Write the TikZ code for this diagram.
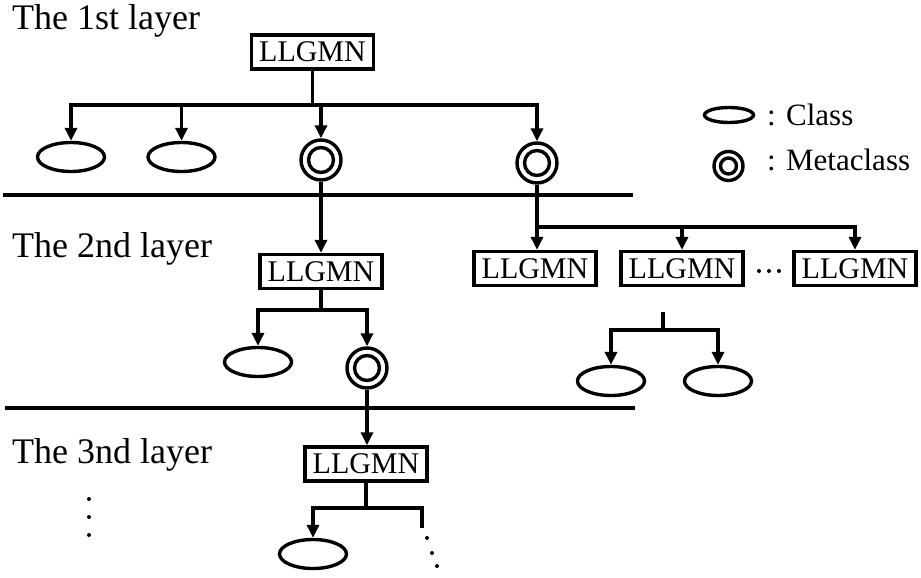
\documentclass[tikz,border=0pt]{standalone}
\usepackage{fontspec}
\setmainfont{Liberation Serif}
\usetikzlibrary{arrows.meta,shapes.geometric}

\tikzset{
  ln/.style={line width=3.4pt},
  arr/.style={line width=3.4pt, -{Triangle[width=12pt,length=13pt]}},
  llgmn/.style={draw, line width=3.4pt, rectangle, minimum width=122pt,
    minimum height=34pt, inner sep=0pt, font=\fontsize{30}{32}\selectfont},
  cls/.style={draw, line width=3.4pt, ellipse, minimum width=67pt,
    minimum height=29pt, inner sep=0pt},
  meta/.style={draw, line width=3.4pt, circle, minimum size=40pt, inner sep=0pt,
    path picture={\draw[line width=3.4pt] (path picture bounding box.center) circle (12.5pt);}},
  metasmall/.style={draw, line width=3.4pt, circle, minimum size=29pt, inner sep=0pt,
    path picture={\draw[line width=3.4pt] (path picture bounding box.center) circle (8pt);}},
  layer/.style={anchor=base west, inner sep=0pt, font=\fontsize{36}{40}\selectfont},
  legtext/.style={anchor=base west, inner sep=0pt, font=\fontsize{31}{36}\selectfont},
  dot/.style={fill=black, circle, inner sep=0pt, minimum size=4pt},
}

\begin{document}
\begin{tikzpicture}[x=1pt, y=-1pt]
\useasboundingbox (0,0) rectangle (921,578);

% layer titles
\node[layer] (t1) at (12,30) {The 1st layer};
\node[layer] (t2) at (12,257) {The 2nd layer};
\node[layer] (t3) at (12,463) {The 3nd layer};

% separators between layers
\coordinate (sepAl) at (3,195);
\coordinate (sepAr) at (633,195);
\coordinate (sepBl) at (5,408);
\coordinate (sepBr) at (635,408);
\draw[ln] (sepAl) -- (sepAr);
\draw[ln] (sepBl) -- (sepBr);

% legend
\node[cls, minimum width=49pt, minimum height=15pt] (legC) at (729,115) {};
\node[legtext] (legCt) at (767,125) {: Class};
\node[metasmall] (legM) at (728.5,166) {};
\node[legtext] (legMt) at (767,170) {: Metaclass};

% ---- first layer ----
\node[llgmn] (b1) at (312.5,52) {LLGMN};
\node[cls] (e1) at (71,157) {};
\node[cls] (e2) at (181.5,157) {};
\node[meta] (m1) at (321,160) {};
\node[meta] (m2) at (537,163) {};
\coordinate (j1) at (312.5,105);
\draw[ln] (b1.south) -- (j1);
\draw[arr] (j1) -| (e1.north);
\draw[arr] (j1) -| (e2.north);
\draw[arr] (j1) -| (m1.north);
\draw[arr] (j1) -| (m2.north);

% ---- second layer ----
\node[llgmn] (b2) at (321,271.5) {LLGMN};
\node[llgmn] (b3) at (535,268.5) {LLGMN};
\node[llgmn] (b4) at (682,268.5) {LLGMN};
\node[llgmn] (b5) at (855,268.5) {LLGMN};
\draw[arr] (m1.south) -- (b2.north);

\coordinate (j2) at (537,227);
\draw[ln] (m2.south) -- (j2);
\draw[arr] (j2) -- (j2 |- b3.north);
\draw[arr] (j2) -| (b4.north);
\draw[arr] (j2) -| (b5.north);

% dots between the last two boxes
\node[dot] (h1) at (759,271) {};
\node[dot] (h2) at (769,271) {};
\node[dot] (h3) at (779,271) {};

\node[cls] (e3) at (258,362) {};
\node[meta] (m3) at (367,368) {};
\coordinate (j3) at (321,310);
\draw[ln] (b2.south) -- (j3);
\draw[arr] (j3) -| (e3.north);
\draw[arr] (j3) -| (m3.north);

\node[cls] (e4) at (611,381) {};
\node[cls] (e5) at (718,381) {};
\coordinate (s1) at (663,312);
\coordinate (s2) at (663,330);
\draw[ln] (s1) -- (s2);
\draw[arr] (s2) -| (e4.north);
\draw[arr] (s2) -| (e5.north);

% ---- third layer ----
\node[llgmn] (b6) at (366,464) {LLGMN};
\draw[arr] (m3.south) -- (m3.south |- b6.north);
\node[cls] (e6) at (313,554) {};
\coordinate (j4) at (366,508);
\coordinate (r4) at (422,528);
\draw[ln] (b6.south) -- (j4);
\draw[arr] (j4) -| (e6.north);
\draw[ln] (j4) -| (r4);
\node[dot] (d1) at (427,538) {};
\node[dot] (d2) at (432,553) {};
\node[dot] (d3) at (437,566) {};

% vertical dots under the layer titles
\node[dot] (v1) at (89,499) {};
\node[dot] (v2) at (89,517) {};
\node[dot] (v3) at (89,535) {};
\end{tikzpicture}
\end{document}
